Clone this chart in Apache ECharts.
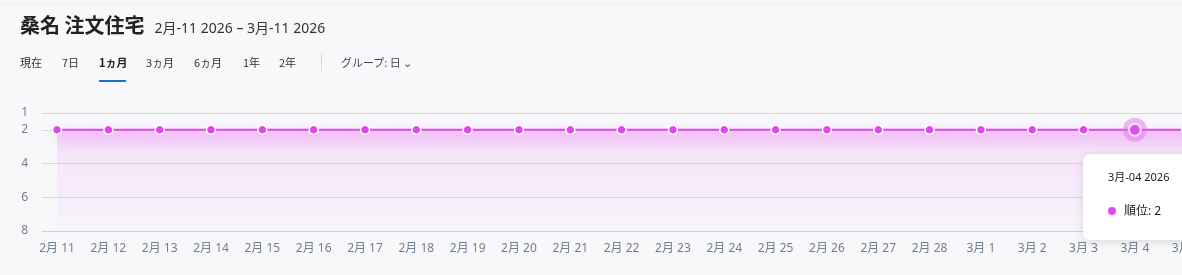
<!DOCTYPE html>
<html><head><meta charset="utf-8">
<script src="https://cdn.jsdelivr.net/npm/echarts@6/dist/echarts.min.js"></script>
<style>
html,body{margin:0;padding:0;background:#f8f8fb;overflow:hidden;width:1182px;height:275px;font-family:'Noto Sans','Noto Sans CJK JP',sans-serif;}
#top{position:absolute;left:0;top:0;width:1182px;height:3px;border-bottom:1px solid #ececf1;}
#title{position:absolute;left:20px;top:10px;white-space:nowrap;color:#222;}
#title .main{font-size:20px;font-weight:700;font-family:'Noto Sans CJK JP','Noto Sans',sans-serif;}
#title .range{font-size:14px;margin-left:10px;color:#333;}
.tab{position:absolute;top:54px;font-size:11px;color:#333;font-family:'Noto Sans CJK JP','Noto Sans',sans-serif;white-space:nowrap;}
.tab.active{font-weight:600;color:#222;}
#uline{position:absolute;left:99px;top:80px;width:27px;height:2px;background:#1f6fd1;}
#sep{position:absolute;left:321px;top:53px;width:1px;height:18px;background:#d8d8de;}
#chart{position:absolute;left:0;top:0;width:1515px;height:275px;}
</style></head>
<body>
<div id="top"></div>
<div id="chart"></div>
<div id="title"><span class="main">桑名 注文住宅</span><span class="range">2月-11 2026 – 3月-11 2026</span></div>
<div id="tabs"></div>
<div id="uline"></div>
<div id="sep"></div>
<script>
const titleText = "桑名 注文住宅";
const tabs = ["現在","7日","1ヵ月","3ヵ月","6ヵ月","1年","2年"];
const tabX = [20,62,99,146,194,243,279];
const groupLabel = "グループ: 日 ⌄";
const categories = ["2月 11","2月 12","2月 13","2月 14","2月 15","2月 16","2月 17","2月 18","2月 19","2月 20","2月 21","2月 22","2月 23","2月 24","2月 25","2月 26","2月 27","2月 28","3月 1","3月 2","3月 3","3月 4","3月 5","3月 6","3月 7","3月 8","3月 9","3月 10","3月 11"];
const tooltipDates = ["2月-11 2026","2月-12 2026","2月-13 2026","2月-14 2026","2月-15 2026","2月-16 2026","2月-17 2026","2月-18 2026","2月-19 2026","2月-20 2026","2月-21 2026","2月-22 2026","2月-23 2026","2月-24 2026","2月-25 2026","2月-26 2026","2月-27 2026","2月-28 2026","3月-01 2026","3月-02 2026","3月-03 2026","3月-04 2026","3月-05 2026","3月-06 2026","3月-07 2026","3月-08 2026","3月-09 2026","3月-10 2026","3月-11 2026"];
const rankValues = [2,2,2,2,2,2,2,2,2,2,2,2,2,2,2,2,2,2,2,2,2,2,2,2,2,2,2,2,2];
const yTicks = [1,2,4,6,8];
const seriesName = "順位";
const highlightIndex = 21;

const tabsEl = document.getElementById('tabs');
tabs.forEach((t,i)=>{const d=document.createElement('div');d.className='tab'+(i===2?' active':'');d.style.left=tabX[i]+'px';d.textContent=t;tabsEl.appendChild(d);});
const g=document.createElement('div');g.className='tab';g.style.left='341px';g.style.color='#445';g.textContent=groupLabel;tabsEl.appendChild(g);

const COLOR = '#e048ec';
const idx = categories.map((c,i)=>i);
const lineData = rankValues.map((v,i)=>[i,v]);
const hiData = [[highlightIndex, rankValues[highlightIndex]]];

const chart = echarts.init(document.getElementById('chart'));
chart.setOption({
  animation:false,
  textStyle:{fontFamily:"'Noto Sans','Noto Sans CJK JP',sans-serif"},
  grid:{left:42,right:8,top:113,bottom:44,containLabel:false},
  xAxis:{type:'value',min:-0.293,max:28,
    axisLine:{show:true,lineStyle:{color:'#c9d2e6',width:1}},
    axisTick:{show:false},splitLine:{show:false},
    axisLabel:{customValues:idx,formatter:v=>categories[Math.round(v)],color:'#6e7f94',fontSize:12,margin:12,showMinLabel:true,showMaxLabel:true}},
  yAxis:{type:'value',inverse:true,min:1,max:8,
    axisLine:{show:false},
    axisTick:{show:false,customValues:yTicks},
    axisLabel:{customValues:yTicks,color:'#6e7f94',fontSize:12,margin:14},
    splitLine:{show:true,lineStyle:{color:'#d9d6e2',width:1}}},
  tooltip:{trigger:'item',alwaysShowContent:true,showContent:true,
    position:[1083,154],
    backgroundColor:'#ffffff',borderWidth:0,borderRadius:7,padding:0,
    extraCssText:'box-shadow:0 2px 10px rgba(0,0,0,0.12);width:150px;height:86px;',
    formatter:p=>{const i=p.data[0];return '<div style="padding:12px 0 0 25px;font-size:11px;color:#222;font-family:Noto Sans,Noto Sans CJK JP">'+tooltipDates[i]+'</div>'+
      '<div style="padding:13px 0 0 25px;font-size:12px;color:#222;font-family:Noto Sans,Noto Sans CJK JP;display:flex;align-items:center"><span style="display:inline-block;width:8px;height:8px;border-radius:4px;background:'+COLOR+';margin-right:8px"></span>'+seriesName+': '+p.data[1]+'</div>';}},
  series:[
    {type:'line',name:seriesName,data:lineData,symbol:'circle',symbolSize:9,showSymbol:true,
      itemStyle:{color:COLOR,borderColor:'#ffffff',borderWidth:1.5},
      lineStyle:{color:COLOR,width:2,shadowColor:'rgba(224,72,236,0.75)',shadowBlur:14,shadowOffsetY:7},
      areaStyle:{origin:'end',color:new echarts.graphic.LinearGradient(0,0,0,1,[
        {offset:0,color:'rgba(224,72,236,0.36)'},
        {offset:0.22,color:'rgba(224,72,236,0.15)'},
        {offset:1,color:'rgba(224,72,236,0.03)'}])},
      emphasis:{disabled:true},tooltip:{show:false},z:2},
    {type:'scatter',name:seriesName,data:hiData,symbol:'circle',symbolSize:24,
      itemStyle:{color:'rgba(228,110,238,0.6)'},emphasis:{disabled:true},z:3,tooltip:{show:false}},
    {type:'scatter',name:seriesName,data:hiData,symbol:'circle',symbolSize:12,
      itemStyle:{color:COLOR,borderColor:'#ffffff',borderWidth:2},emphasis:{disabled:true},z:4}
  ]
});
chart.dispatchAction({type:'showTip',seriesIndex:2,dataIndex:0});
</script>
</body></html>
